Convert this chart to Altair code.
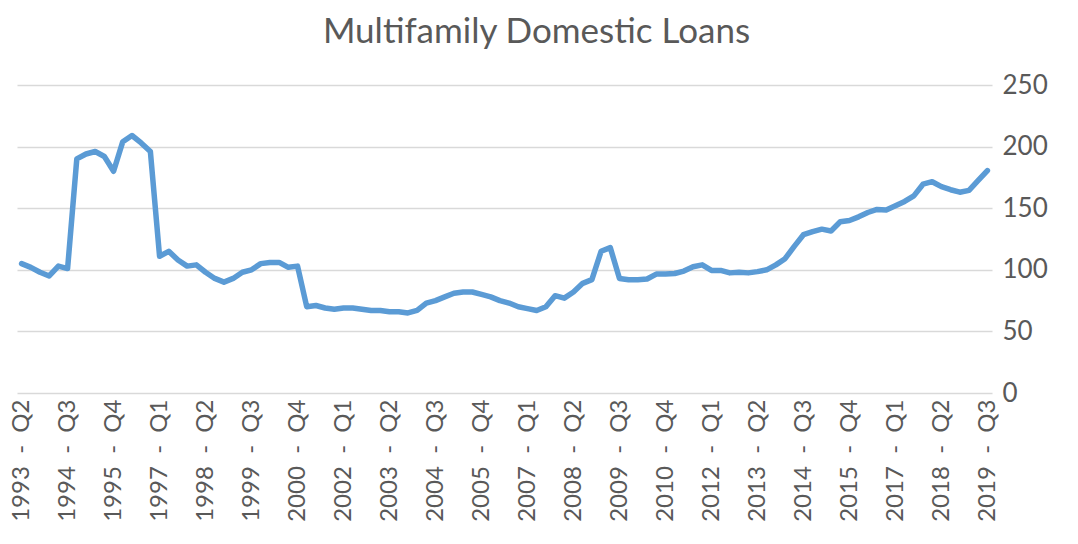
import altair as alt
import pandas as pd

# Quarterly categories from 1993 Q2 to 2019 Q3
start_year, start_q, n_quarters = 1993, 2, 106
categories = []
y, q = start_year, start_q
for _ in range(n_quarters):
    categories.append(f"{y} - Q{q}")
    q += 1
    if q > 4:
        q = 1
        y += 1

values = [
    105, 102, 98, 95, 103, 101, 190, 194, 196, 192,
    180, 204, 209, 203, 196, 111, 115, 108, 103, 104,
    98, 93, 90, 93, 98, 100, 105, 106, 106, 102,
    103, 70, 71, 69, 68, 69, 69, 68, 67, 67,
    66, 66, 65, 67, 73, 75, 78, 81, 82, 82,
    80, 78, 75, 73, 70, 68.5, 67, 70, 79, 77,
    82, 89, 92, 115, 118, 93, 92, 92, 92.5, 96.5,
    96.5, 97, 99, 102.5, 104, 99.5, 99.5, 97.5, 98, 97.5,
    98.5, 100, 104, 109, 119, 128.5, 131, 133, 131.5, 139,
    140, 143, 146.5, 149, 148.5, 152, 155.5, 160, 169.5, 171.5,
    167.5, 165, 163, 164.5, 172.5, 180.5,
]

x_tick_labels = categories[::5]
y_ticks = [0, 50, 100, 150, 200, 250]

df = pd.DataFrame({"quarter": categories, "value": values})

font = "Lato"
text_color = "#595959"

chart = (
    alt.Chart(df)
    .mark_line(color="#5B9BD5", strokeWidth=5.5, strokeJoin="round", strokeCap="round")
    .encode(
        x=alt.X(
            "quarter:O",
            sort=categories,
            scale=alt.Scale(type="point", padding=0.5),
            axis=alt.Axis(
                values=x_tick_labels,
                labelExpr="replace(datum.label, ' - ', '\u00a0 -\u00a0 ')",
                labelAngle=270,
                title=None,
                ticks=False,
                domain=False,
                grid=False,
                labelFont=font,
                labelFontSize=24,
                labelColor=text_color,
                labelPadding=6,
                labelOverlap=False,
            ),
        ),
        y=alt.Y(
            "value:Q",
            scale=alt.Scale(domain=[0, 250], nice=False),
            axis=alt.Axis(
                orient="right",
                values=y_ticks,
                title=None,
                ticks=False,
                domain=False,
                grid=True,
                gridColor="#D9D9D9",
                gridWidth=1.5,
                labelAlign="left",
                labelPadding=10,
                labelFont=font,
                labelFontSize=26,
                labelColor=text_color,
            ),
        ),
    )
    .properties(
        width=975,
        height=308,
        title=alt.TitleParams(
            "Multifamily Domestic Loans",
            font=font,
            fontSize=35,
            fontWeight="normal",
            color=text_color,
            anchor="middle",
            offset=22,
            dx=32,
        ),
        padding={"left": 9, "top": 77, "right": 78, "bottom": 142},
        autosize=alt.AutoSizeParams(type="none"),
    )
    .configure_view(stroke=None)
)

chart.save("out.html", embed_options={"renderer": "svg", "actions": False})
